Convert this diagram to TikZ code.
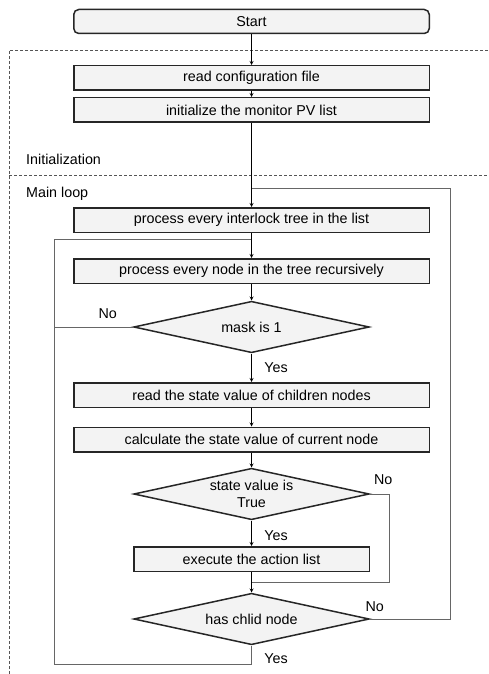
\documentclass[tikz,border=0pt]{standalone}
\usepackage{fontspec}
\setmainfont{Liberation Sans}
\usepackage{tikz}
\usetikzlibrary{shapes.geometric, arrows}
\definecolor{boxfill}{HTML}{F3F3F3}
\definecolor{loopgray}{HTML}{666666}
\definecolor{framegray}{HTML}{555555}
\tikzstyle{startstop} = [rectangle, rounded corners=5pt, minimum width=355.5pt, minimum height=24pt, text centered, draw=black!85, line width=1.5pt, fill=boxfill]
\tikzstyle{process} = [rectangle, minimum width=355.5pt, minimum height=24.5pt, text centered, draw=black!85, line width=1.5pt, fill=boxfill]
\tikzstyle{smallprocess} = [process, minimum width=235.5pt]
\tikzstyle{decision} = [diamond, aspect=4.47, inner sep=0pt, minimum width=235.5pt, minimum height=51.5pt, text centered, align=center, draw=black!85, line width=1.5pt, fill=boxfill]
\tikzstyle{arrow} = [line width=0.8pt,->,>=stealth]
\tikzstyle{loop} = [line width=0.9pt, draw=loopgray]
\tikzstyle{frame} = [line width=0.7pt, draw=framegray, dash pattern=on 3pt off 2pt]
\tikzstyle{lbl} = [inner sep=0pt]

\begin{document}
\begin{tikzpicture}[x=1pt, y=-1pt, node distance=32pt, font=\fontsize{14.3}{16.5}\selectfont]
\useasboundingbox (0,0) rectangle (488,674);
\node (start) [startstop] at (251.5,21.5) {Start};
\node (readCfg) [process, below of=start, yshift=-24.5pt] {read configuration file};
\node (initPV) [process, below of=readCfg] {initialize the monitor PV list};
\node (interlock) [process, below of=initPV, yshift=-78pt] {process every interlock tree in the list};
\node (procNode) [process, below of=interlock, yshift=-19pt] {process every node in the tree recursively};
\node (mask) [decision, below of=procNode, yshift=-24pt] {mask is 1};
\node (readState) [process, below of=mask, yshift=-36pt] {read the state value of children nodes};
\node (calcState) [process, below of=readState, yshift=-12.5pt] {calculate the state value of current node};
\node (isTrue) [decision, below of=calcState, yshift=-22.5pt] {state value is\\True};
\node (execute) [smallprocess, below of=isTrue, yshift=-33pt] {execute the action list};
\node (hasChild) [decision, below of=execute, yshift=-28pt] {has chlid node};

\node (initLabel) [lbl, anchor=base west] at (26,164) {Initialization};
\node (mainLabel) [lbl, anchor=base west] at (26,197) {Main loop};

\coordinate (rightTop) at (450,188);
\coordinate (leftTop) at (54,239);
\coordinate (leftBottom) at (54,664);
\coordinate (rightMid) at (389,582);

\draw [frame] (488,50) -- (9,50) -- (9,674);
\draw [frame] (9,175) -- (488,175);

\draw [arrow] (start) -- (readCfg);
\draw [arrow] (readCfg) -- (initPV);
\draw [loop] (hasChild.east) -| node[lbl, anchor=south, pos=0.03, yshift=7pt] (noChild) {No} (rightTop) -- (interlock.north |- rightTop);
\draw [loop] (hasChild.south) |- node[lbl, anchor=west, pos=0.35, xshift=12.5pt] (yesChild) {Yes} (leftBottom) -- (leftTop) -- (interlock.south |- leftTop);
\draw [loop] (mask.west) -- node[lbl, anchor=south, pos=0.32, yshift=8pt] (noMask) {No} (mask.west -| leftTop);
\draw [loop] (isTrue.east) -| node[lbl, anchor=south, pos=0.35, yshift=9pt] (noTrue) {No} (rightMid) -- (hasChild.north |- rightMid);
\draw [arrow] (initPV) -- (interlock);
\draw [arrow] (interlock) -- (procNode);
\draw [arrow] (procNode) -- (mask);
\draw [arrow] (mask) -- node[lbl, anchor=west, xshift=12.5pt] (yesMask) {Yes} (readState);
\draw [arrow] (readState) -- (calcState);
\draw [arrow] (calcState) -- (isTrue);
\draw [arrow] (isTrue) -- node[lbl, anchor=west, pos=0.6, xshift=12.5pt] (yesTrue) {Yes} (execute);
\draw [arrow] (execute) -- (hasChild);
\end{tikzpicture}
\end{document}
